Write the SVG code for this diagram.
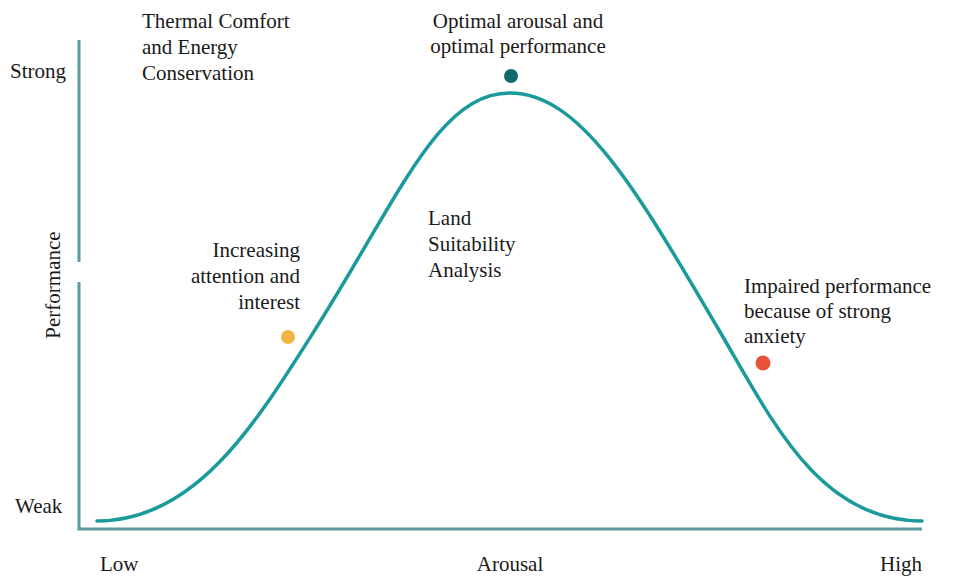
<svg xmlns="http://www.w3.org/2000/svg" width="962" height="577" viewBox="0 0 962 577">
  <style>
    .lbl { font-family: "Liberation Serif", "Times New Roman", serif; font-size: 21px; fill: #1a1a1a; }
    .axis { stroke: #5e9a9c; stroke-width: 3; fill: none; }
    .curve { stroke: #1a9a9b; stroke-width: 3.5; fill: none; stroke-linecap: round; }
  </style>
  <rect width="962" height="577" fill="#ffffff"/>

  <!-- axes and the inverted-U performance curve -->
  <g id="connectors">
    <path class="axis" d="M79,40 V262 M79,282 V529 H922"/>
    <path class="curve" d="M97,521 C197,521 256,423 318,325 C403,189 440,93 510,93 C580,93 636,189 716,325 C772,420 818,521 922,521"/>
  </g>

  <!-- axis labels -->
  <g id="axis-labels">
    <text class="lbl" x="10" y="78">Strong</text>
    <text class="lbl" x="15" y="513">Weak</text>
    <text class="lbl" x="100" y="571">Low</text>
    <text class="lbl" x="510" y="571" text-anchor="middle">Arousal</text>
    <text class="lbl" x="922" y="571" text-anchor="end">High</text>
    <text class="lbl" transform="translate(60,285) rotate(-90)" text-anchor="middle">Performance</text>
  </g>

  <g id="title-note">
    <text class="lbl" x="142" y="28">Thermal Comfort</text>
    <text class="lbl" x="142" y="54">and Energy</text>
    <text class="lbl" x="142" y="80">Conservation</text>
  </g>

  <g id="center-note">
    <text class="lbl" x="428" y="225">Land</text>
    <text class="lbl" x="428" y="251">Suitability</text>
    <text class="lbl" x="428" y="277">Analysis</text>
  </g>

  <g id="node-optimal">
    <text class="lbl" x="518" y="28" text-anchor="middle">Optimal arousal and</text>
    <text class="lbl" x="518" y="53" text-anchor="middle">optimal performance</text>
    <circle cx="511" cy="76" r="7" fill="#0f6b6c"/>
  </g>

  <g id="node-increasing">
    <text class="lbl" x="300" y="257" text-anchor="end">Increasing</text>
    <text class="lbl" x="300" y="283" text-anchor="end">attention and</text>
    <text class="lbl" x="300" y="309" text-anchor="end">interest</text>
    <circle cx="288" cy="337" r="7" fill="#f2b441"/>
  </g>

  <g id="node-impaired">
    <text class="lbl" x="744" y="293">Impaired performance</text>
    <text class="lbl" x="744" y="318">because of strong</text>
    <text class="lbl" x="744" y="343">anxiety</text>
    <circle cx="763" cy="363" r="7.5" fill="#e4533a"/>
  </g>
</svg>
